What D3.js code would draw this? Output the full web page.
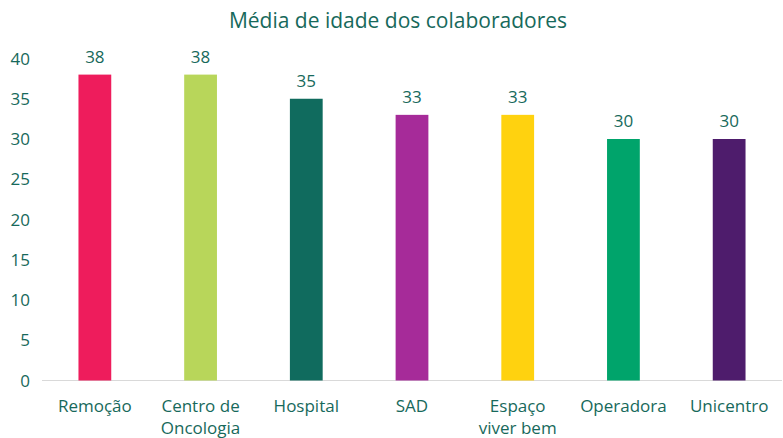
<!DOCTYPE html>
<html><head><meta charset="utf-8">
<script src="https://cdn.jsdelivr.net/npm/d3@7"></script>
<style>body{margin:0;background:#fff}svg{display:block}</style>
</head><body>
<svg id="c" width="783" height="438"></svg>
<script>
const categories = [["Remoção"],["Centro de","Oncologia"],["Hospital"],["SAD"],["Espaço","viver bem"],["Operadora"],["Unicentro"]];
const values = [38,38,35,33,33,30,30];
const colors = ["#EE1C5C","#B8D65A","#106B5E","#A62B99","#FFD20F","#00A46B","#4E1C6C"];
const yTicks = [0,5,10,15,20,25,30,35,40];
const title = "Média de idade dos colaboradores";

const txt = "#17695B";
const font = "'Open Sans', sans-serif";
const svg = d3.select("#c");
const x = d3.scaleBand().domain(d3.range(values.length)).range([42,782]).paddingInner(0.69).paddingOuter(0.345);
const y = d3.scaleLinear().domain([0,40]).range([380.5,58.5]);

svg.append("text").attr("x",398).attr("y",28).attr("text-anchor","middle")
  .attr("fill",txt).attr("font-family",font).attr("font-size",21).text(title);

svg.append("g").selectAll("text").data(yTicks).join("text")
  .attr("x",30).attr("y",d=>y(d)+6).attr("text-anchor","end")
  .attr("fill",txt).attr("font-family",font).attr("font-size",17).text(d=>d);

svg.append("line").attr("x1",42).attr("x2",782).attr("y1",y(0)).attr("y2",y(0))
  .attr("stroke","#D9D9D9").attr("stroke-width",1);

svg.append("g").selectAll("rect").data(values).join("rect")
  .attr("x",(d,i)=>x(i)).attr("width",x.bandwidth())
  .attr("y",d=>y(d)).attr("height",d=>y(0)-y(d)).attr("fill",(d,i)=>colors[i]);

svg.append("g").selectAll("text").data(values).join("text")
  .attr("x",(d,i)=>x(i)+x.bandwidth()/2).attr("y",d=>y(d)-12).attr("text-anchor","middle")
  .attr("fill",txt).attr("font-family",font).attr("font-size",17).text(d=>d);

const lab = svg.append("g").selectAll("text").data(categories).join("text")
  .attr("x",(d,i)=>x(i)+x.bandwidth()/2).attr("y",412).attr("text-anchor","middle")
  .attr("fill",txt).attr("font-family",font).attr("font-size",17);
lab.selectAll("tspan").data(d=>d).join("tspan")
  .attr("x",function(){return this.parentNode.getAttribute("x");})
  .attr("dy",(d,j)=>j===0?0:22).text(d=>d);
</script>
</body></html>
